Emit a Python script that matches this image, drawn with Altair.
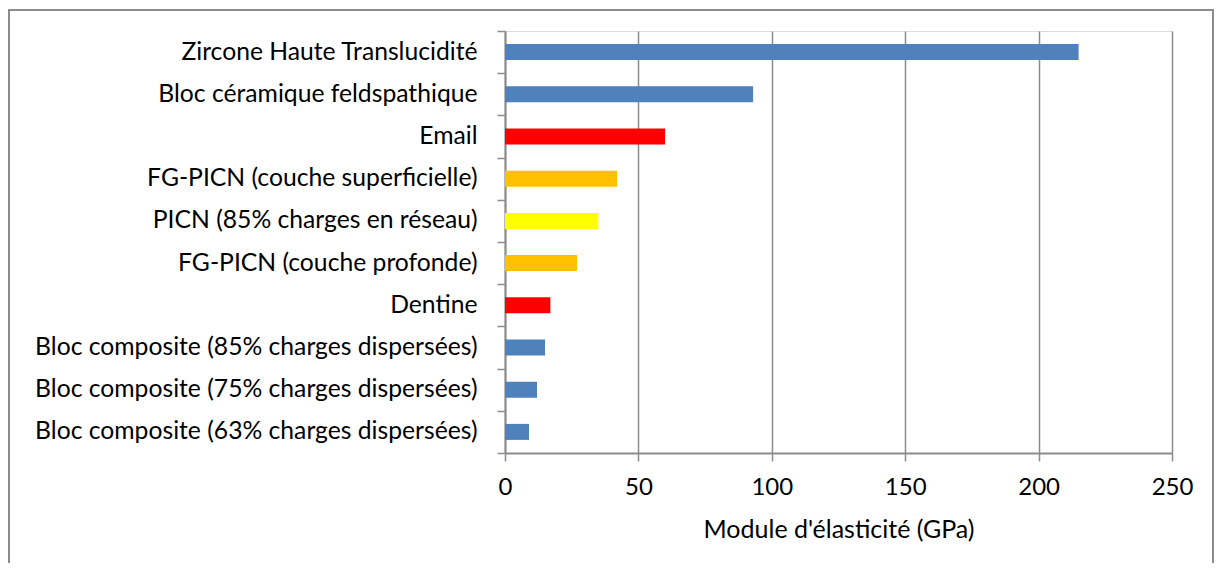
import altair as alt
import pandas as pd

materials = [
    "Zircone Haute Translucidité",
    "Bloc céramique feldspathique",
    "Email",
    "FG-PICN (couche superficielle)",
    "PICN (85% charges en réseau)",
    "FG-PICN (couche profonde)",
    "Dentine",
    "Bloc composite (85% charges dispersées)",
    "Bloc composite (75% charges dispersées)",
    "Bloc composite (63% charges dispersées)",
]
modulus = [215, 93, 60, 42, 35, 27, 17, 15, 12, 9]
groups = ["ceram", "ceram", "tissue", "fgpicn", "picn", "fgpicn", "tissue", "comp", "comp", "comp"]
group_names = ["ceram", "tissue", "fgpicn", "picn", "comp"]
group_colors = ["#4F81BD", "#FF0000", "#FFC000", "#FFFF00", "#4F81BD"]
x_ticks = [0, 50, 100, 150, 200, 250]

df = pd.DataFrame({"material": materials, "modulus": modulus, "group": groups})

FONT = "Lato"
GRID = "#8C8C8C"

bars = alt.Chart(df).mark_bar(size=16).encode(
    y=alt.Y(
        "material:N",
        sort=materials,
        scale=alt.Scale(paddingInner=0, paddingOuter=0),
        axis=alt.Axis(
            title=None,
            domain=True,
            ticks=True,
            tickBand="extent",
            tickSize=8,
            tickColor=GRID,
            domainColor=GRID,
            domainWidth=2,
            tickWidth=1.5,
            labelPadding=20,
            labelFont=FONT,
            labelFontSize=24.7,
            labelColor="#000000",
            labelLimit=600,
        ),
    ),
    x=alt.X(
        "modulus:Q",
        scale=alt.Scale(domain=[0, 250], nice=False),
        axis=alt.Axis(
            title="Module d'élasticité (GPa)",
            values=x_ticks,
            grid=True,
            gridColor=GRID,
            gridWidth=1.5,
            domain=True,
            tickColor=GRID,
            tickWidth=1.5,
            tickSize=8,
            domainColor=GRID,
            domainWidth=2,
            labelFlush=False,
            labelFont=FONT,
            labelFontSize=24,
            labelColor="#000000",
            labelPadding=14,
            titleFont=FONT,
            titleFontSize=25,
            titleFontWeight="normal",
            titleColor="#000000",
            titlePadding=18,
        ),
    ),
    color=alt.Color(
        "group:N",
        scale=alt.Scale(domain=group_names, range=group_colors),
        legend=None,
    ),
)

border = alt.Chart(pd.DataFrame({"k": [0]})).mark_rect(
    fill=None, stroke="#8C8C8C", strokeWidth=2
).encode(
    x=alt.value(-496),
    x2=alt.value(708),
    y=alt.value(-21),
    y2=alt.value(700),
)

chart = alt.layer(border, bars).properties(
    width=667,
    height=422,
    padding={"left": 497, "top": 23, "right": 42, "bottom": 110},
    autosize=alt.AutoSizeParams(type="none"),
).configure_view(stroke=None).configure(background="#FFFFFF")

chart.save("out.html", embed_options={"renderer": "svg", "actions": False})
